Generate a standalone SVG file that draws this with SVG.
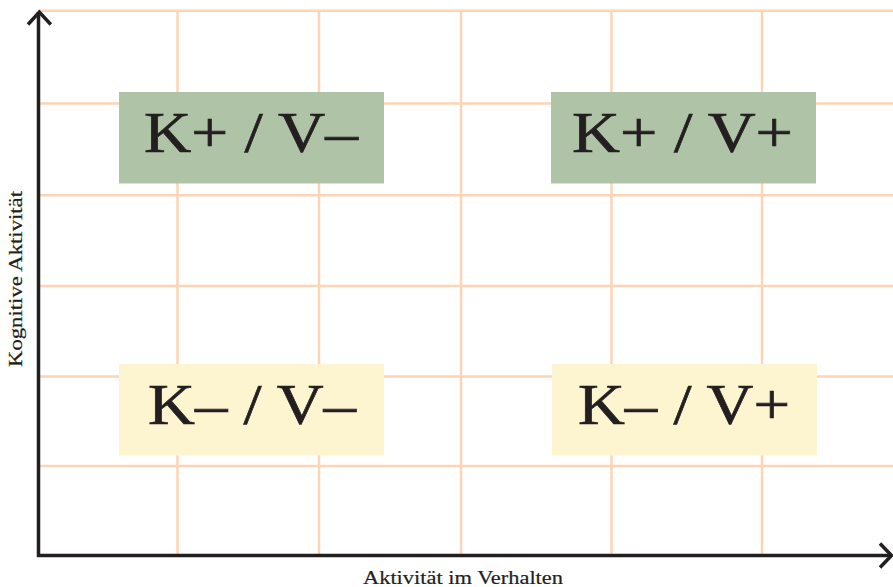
<svg xmlns="http://www.w3.org/2000/svg" width="893" height="587" viewBox="0 0 893 587">
  <style>
    .grid line { stroke: #fdd5b4; stroke-width: 2.5; }
    .axis { stroke: #231f20; stroke-width: 3.5; fill: none; }
    .head { stroke: #231f20; stroke-width: 3.5; fill: none; stroke-linecap: butt; stroke-linejoin: miter; }
    .green { fill: #afc3a6; }
    .yellow { fill: #fdf4d0; }
    .big { font-family: "Liberation Serif", "DejaVu Serif", serif; font-size: 58px; fill: #231f20; stroke: #231f20; stroke-width: 0.7; text-anchor: middle; }
    .lab { font-family: "Liberation Serif", "DejaVu Serif", serif; font-size: 19px; fill: #231f20; stroke: #231f20; stroke-width: 0.2; text-anchor: middle; }
  </style>
  <rect width="893" height="587" fill="#ffffff"/>
  <g class="grid">
    <line x1="39" y1="10.7" x2="893" y2="10.7"/>
    <line x1="39" y1="103.5" x2="893" y2="103.5"/>
    <line x1="39" y1="195.3" x2="893" y2="195.3"/>
    <line x1="39" y1="286" x2="893" y2="286"/>
    <line x1="39" y1="376.5" x2="893" y2="376.5"/>
    <line x1="39" y1="466" x2="893" y2="466"/>
    <line x1="177.5" y1="10.7" x2="177.5" y2="555"/>
    <line x1="319" y1="10.7" x2="319" y2="555"/>
    <line x1="461" y1="10.7" x2="461" y2="555"/>
    <line x1="611.5" y1="10.7" x2="611.5" y2="555"/>
    <line x1="762" y1="10.7" x2="762" y2="555"/>
  </g>
  <g id="kp-vm">
    <rect class="green" x="119" y="92" width="265" height="91.5"/>
    <text class="big" x="251" y="152" textLength="214" lengthAdjust="spacingAndGlyphs">K+ / V–</text>
  </g>
  <g id="kp-vp">
    <rect class="green" x="551" y="92" width="265" height="91.5"/>
    <text class="big" x="682.5" y="152" textLength="221" lengthAdjust="spacingAndGlyphs">K+ / V+</text>
  </g>
  <g id="km-vm">
    <rect class="yellow" x="119" y="364" width="265" height="91.5"/>
    <text class="big" x="252" y="424" textLength="208" lengthAdjust="spacingAndGlyphs">K– / V–</text>
  </g>
  <g id="km-vp">
    <rect class="yellow" x="552" y="364" width="265" height="91.5"/>
    <text class="big" x="684" y="424" textLength="212" lengthAdjust="spacingAndGlyphs">K– / V+</text>
  </g>
  <g id="axes">
    <path class="axis" d="M38.5 12 V555.5 H890"/>
    <path class="head" d="M28 24.5 L39.3 12 L50.8 24.5"/>
    <path class="head" d="M880 543.5 L891.5 555.5 L880 567.5"/>
  </g>
  <text class="lab" x="463" y="584" textLength="200" lengthAdjust="spacingAndGlyphs">Aktivität im Verhalten</text>
  <text class="lab" transform="translate(21.5 279) rotate(-90)" textLength="176" lengthAdjust="spacingAndGlyphs">Kognitive Aktivität</text>
</svg>
